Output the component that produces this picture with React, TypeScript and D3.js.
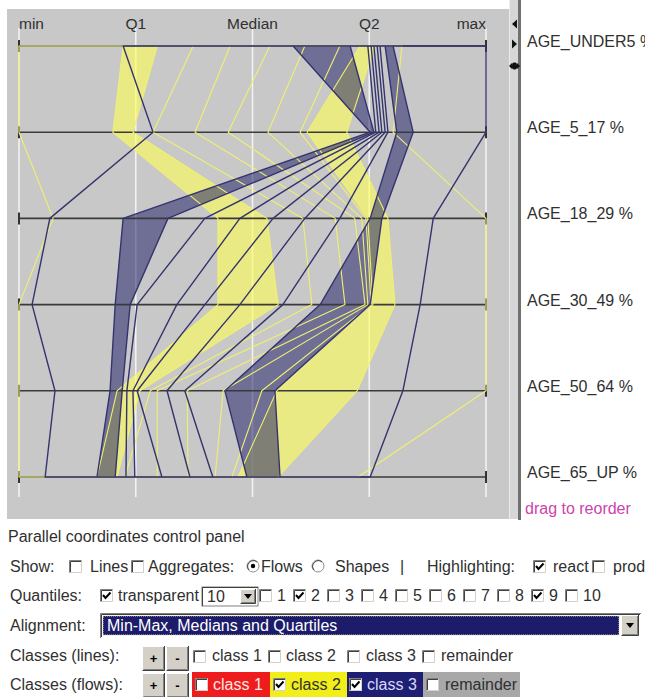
import React from "react";
import * as d3 from "d3";

// ---------- data ----------
const AXES = ["AGE_UNDER5 %", "AGE_5_17 %", "AGE_18_29 %", "AGE_30_49 %", "AGE_50_64 %", "AGE_65_UP %"];
const ALIGN_LABELS = ["min", "Q1", "Median", "Q2", "max"];
const ALIGN_STOPS = [0, 25, 50, 75, 100];

// class 2 (yellow): decile boundaries on the aligned scale (0=min,25=Q1,50=median,75=Q3,100=max)
const C2_Q0 = [0, 0, 7.3, 0, 0, 0];
const C2_Q1 = [22.3, 20.1, 42.6, 42.6, 21.0, 16.7];
const C2_Q2 = [29.6, 24.4, 53.1, 55.5, 25.9, 21.0];
const C2_Q3 = [37.3, 28.7, 60.8, 62.7, 28.1, 22.7];
const C2_Q4 = [45.2, 37.7, 67.7, 69.8, 29.6, 29.6];
const C2_Q5 = [53.7, 44.8, 71.9, 74.1, 36.0, 36.2];
const C2_Q6 = [61.2, 53.3, 73.4, 74.7, 43.7, 42.0];
const C2_Q7 = [68.7, 60.2, 74.3, 75.4, 52.0, 45.6];
const C2_Q8 = [73.0, 61.7, 74.7, 75.8, 55.2, 46.9];
const C2_Q9 = [76.2, 70.2, 79.0, 80.5, 72.4, 55.5];
const C2_Q10 = [82.0, 80.1, 100, 100, 100, 72.6];

// class 3 (navy)
const C3_Q0 = [22.3, 28.7, 6.6, 2.8, 7.7, 5.6];
const C3_Q1 = [58.7, 75.2, 22.3, 20.6, 19.5, 16.7];
const C3_Q2 = [70.9, 76.0, 31.9, 23.8, 22.1, 20.6];
const C3_Q3 = [74.7, 76.4, 39.8, 25.3, 23.1, 22.9];
const C3_Q4 = [75.4, 77.1, 47.3, 33.8, 24.4, 24.8];
const C3_Q5 = [76.0, 77.7, 54.4, 39.8, 25.3, 30.6];
const C3_Q6 = [76.7, 78.4, 61.2, 47.3, 31.7, 36.6];
const C3_Q7 = [77.3, 79.0, 68.7, 56.5, 35.5, 41.5];
const C3_Q8 = [78.4, 80.9, 75.2, 64.5, 44.1, 48.8];
const C3_Q9 = [80.1, 84.4, 77.7, 75.2, 54.8, 55.9];
const C3_Q10 = [100, 100, 88.7, 85.9, 82.2, 75.2];

const C2_BOUNDS = [C2_Q0, C2_Q1, C2_Q2, C2_Q3, C2_Q4, C2_Q5, C2_Q6, C2_Q7, C2_Q8, C2_Q9, C2_Q10];
const C3_BOUNDS = [C3_Q0, C3_Q1, C3_Q2, C3_Q3, C3_Q4, C3_Q5, C3_Q6, C3_Q7, C3_Q8, C3_Q9, C3_Q10];
const FILLED_QUANTILES = [2, 9];
const QUANTILE_BOXES = [1, 2, 3, 4, 5, 6, 7, 8, 9, 10];

const FONT = '"Liberation Sans", Arial, sans-serif';
const TXT = "#303030";

// ---------- scales ----------
const x = d3.scaleLinear().domain([0, 100]).range([19, 486]);
const y = d3.scalePoint<string>().domain(AXES).range([46, 477]);

const lineGen = d3
  .line<number>()
  .x((v) => x(v))
  .y((_, i) => y(AXES[i]) as number);

function bandPath(lo: number[], hi: number[]) {
  const pts = AXES.map((a, i) => ({ yy: y(a) as number, x0: x(lo[i]), x1: x(hi[i]) }));
  return d3
    .area<{ yy: number; x0: number; x1: number }>()
    .y((d) => d.yy)
    .x0((d) => d.x0)
    .x1((d) => d.x1)(pts) as string;
}

function envelopePath(lo: number[], hi: number[]) {
  const pts: [number, number][] = [
    ...AXES.map((a, i) => [x(lo[i]), y(a) as number] as [number, number]),
    ...AXES.map((a, i) => [x(hi[i]), y(a) as number] as [number, number]).reverse(),
  ];
  return d3.line()(pts) + "Z";
}

// ---------- widgets ----------
function Checkbox({ cx, cy, checked }: { cx: number; cy: number; checked?: boolean }) {
  const s = 13;
  return (
    <g>
      <rect x={cx} y={cy} width={s} height={s} fill="#fff" />
      <path d={`M${cx + 0.5},${cy + s} V${cy + 0.5} H${cx + s}`} stroke="#808080" fill="none" />
      <path d={`M${cx + 1.5},${cy + s - 1} V${cy + 1.5} H${cx + s - 1}`} stroke="#404040" fill="none" />
      <path d={`M${cx + 0.5},${cy + s - 0.5} H${cx + s - 0.5} V${cy + 0.5}`} stroke="#d4d0c8" fill="none" />
      {checked && (
        <path
          d={`M${cx + 3},${cy + 6} L${cx + 5.5},${cy + 9} L${cx + 10.5},${cy + 3.5}`}
          stroke="#000"
          strokeWidth={2}
          fill="none"
        />
      )}
    </g>
  );
}

function Radio({ cx, cy, on }: { cx: number; cy: number; on?: boolean }) {
  return (
    <g>
      <circle cx={cx} cy={cy} r={6} fill="#fff" stroke="#909090" />
      <path d={`M${cx - 4},${cy + 4} A5.7,5.7 0 0 1 ${cx + 4},${cy - 4}`} stroke="#404040" fill="none" />
      {on && <circle cx={cx} cy={cy} r={2.2} fill="#000" />}
    </g>
  );
}

function Button({ bx, by, w, h, label }: { bx: number; by: number; w: number; h: number; label: string }) {
  return (
    <g>
      <rect x={bx} y={by} width={w} height={h} fill="#d4d0c8" />
      <path d={`M${bx + 0.5},${by + h} V${by + 0.5} H${bx + w}`} stroke="#fff" fill="none" />
      <path d={`M${bx + 0.5},${by + h - 0.5} H${bx + w - 0.5} V${by}`} stroke="#404040" fill="none" />
      <path d={`M${bx + 1.5},${by + h - 1.5} H${bx + w - 1.5} V${by + 1}`} stroke="#808080" fill="none" />
      <text x={bx + w / 2} y={by + h / 2 + 4} textAnchor="middle" fontSize={13} fontWeight="bold" fill="#000">
        {label}
      </text>
    </g>
  );
}

function Txt({ tx, ty, children, fill = TXT, size = 16, anchor = "start" }: any) {
  return (
    <text x={tx} y={ty} fontSize={size} fill={fill} textAnchor={anchor} fontFamily={FONT}>
      {children}
    </text>
  );
}

function ClassFlows({ bounds, fill, fillOp, stroke, sw }: any) {
  return (
    <g>
      {FILLED_QUANTILES.map((q) => (
        <path key={q} d={bandPath(bounds[q - 1], bounds[q])} fill={fill} fillOpacity={fillOp} stroke="none" />
      ))}
    </g>
  );
}

function ClassLines({ bounds, stroke, sw }: any) {
  return (
    <g fill="none" stroke={stroke} strokeWidth={sw} strokeLinejoin="round">
      <path d={envelopePath(bounds[0], bounds[bounds.length - 1])} />
      {bounds.slice(1, bounds.length - 1).map((b: number[], i: number) => (
        <path key={i} d={lineGen(b) as string} />
      ))}
    </g>
  );
}

export default function App() {
  const yellowFill = "#ffff5a";
  const navyFill = "#26266c";
  return (
    <svg
      width={645}
      height={697}
      style={{ position: "absolute", left: 0, top: 0, background: "#fff", display: "block" }}
      fontFamily={FONT}
    >
      {/* plot background */}
      <rect x={7} y={9} width={502} height={510} fill="#c8c8c8" />
      {/* side strip */}
      <rect x={509} y={0} width={10} height={519} fill="#d6d6d6" />
      <line x1={509.5} y1={0} x2={509.5} y2={519} stroke="#ececec" />
      <rect x={518} y={0} width={3} height={520} fill="#707070" />
      <path d="M512,24 L517,19.5 L517,28.5 Z" fill="#111" />
      <path d="M517,44 L512,39.5 L512,48.5 Z" fill="#111" />
      <g fill="#111">
        <path d="M509,66 L512,63 L512,69 Z" />
        <path d="M520,66 L517,63 L517,69 Z" />
        <rect x={512} y={62.5} width={5} height={7} rx={2} />
      </g>

      {/* alignment guide lines */}
      {ALIGN_STOPS.map((s, i) => (
        <line key={i} x1={x(s)} x2={x(s)} y1={28} y2={497} stroke="#f2f2f2" strokeWidth={1.6} />
      ))}
      {ALIGN_LABELS.map((l, i) => (
        <Txt
          key={l}
          tx={i === 0 ? x(ALIGN_STOPS[i]) : i === 4 ? x(ALIGN_STOPS[i]) : x(ALIGN_STOPS[i])}
          ty={29}
          size={15.5}
          anchor={i === 0 ? "start" : i === 4 ? "end" : "middle"}
        >
          {l}
        </Txt>
      ))}

      {/* flows */}
      <ClassFlows bounds={C2_BOUNDS} fill={yellowFill} fillOp={0.62} />
      <ClassFlows bounds={C3_BOUNDS} fill={navyFill} fillOp={0.55} />

      {/* axes */}
      {AXES.map((a) => {
        const yy = y(a) as number;
        return (
          <g key={a}>
            <line x1={x(0)} x2={x(100)} y1={yy} y2={yy} stroke="#3a3a3a" strokeWidth={1.6} />
            <line x1={x(0)} x2={x(0)} y1={yy - 6} y2={yy + 6} stroke="#333" strokeWidth={2} />
            <line x1={x(100)} x2={x(100)} y1={yy - 6} y2={yy + 6} stroke="#333" strokeWidth={2} />
            <Txt tx={527} ty={yy + 1}>{a}</Txt>
          </g>
        );
      })}
      <Txt tx={525} ty={514} fill="#cc44aa">drag to reorder</Txt>

      <ClassLines bounds={C2_BOUNDS} stroke="#f0f070" sw={1.1} />
      <ClassLines bounds={C3_BOUNDS} stroke="#34346e" sw={1.4} />

      {/* control panel */}
      <Txt tx={8} ty={542}>Parallel coordinates control panel</Txt>

      {/* row: show */}
      <Txt tx={10} ty={572}>Show:</Txt>
      <Checkbox cx={69} cy={560} />
      <Txt tx={90} ty={572}>Lines</Txt>
      <Checkbox cx={131} cy={560} />
      <Txt tx={148} ty={572}>Aggregates:</Txt>
      <Radio cx={253} cy={566} on />
      <Txt tx={261} ty={572}>Flows</Txt>
      <Radio cx={318} cy={566} />
      <Txt tx={335} ty={572}>Shapes</Txt>
      <Txt tx={400} ty={572}>|</Txt>
      <Txt tx={427} ty={572}>Highlighting:</Txt>
      <Checkbox cx={533} cy={560} checked />
      <Txt tx={553} ty={572}>react</Txt>
      <Checkbox cx={592} cy={560} />
      <Txt tx={613} ty={572}>product</Txt>

      {/* row: quantiles */}
      <Txt tx={10} ty={601}>Quantiles:</Txt>
      <Checkbox cx={100} cy={589} checked />
      <Txt tx={118} ty={601}>transparent</Txt>
      <g>
        <rect x={202} y={587} width={56} height={19} fill="#fff" stroke="#808080" />
        <path d="M202.5,606 V587.5 H258" stroke="#404040" fill="none" />
        <Txt tx={207} ty={602}>10</Txt>
        <Button bx={240} by={589} w={16} h={15} label="" />
        <path d="M244,594 L252,594 L248,599 Z" fill="#000" />
      </g>
      {QUANTILE_BOXES.map((q, i) => (
        <g key={q}>
          <Checkbox cx={259 + i * 34} cy={589} checked={q === 2 || q === 9} />
          <Txt tx={259 + i * 34 + 18} ty={601}>{q}</Txt>
        </g>
      ))}

      {/* row: alignment */}
      <Txt tx={10} ty={631}>Alignment:</Txt>
      <g>
        <rect x={100} y={613} width={541} height={25} fill="#fff" />
        <path d="M100.5,638 V613.5 H641" stroke="#808080" fill="none" />
        <path d="M101.5,637 V614.5 H640" stroke="#404040" fill="none" />
        <rect x={103} y={616} width={516} height={19} fill="#1c1c6a" stroke="#d8d8b0" strokeDasharray="1,1" />
        <Txt tx={107} ty={631} fill="#ffffff">Min-Max, Medians and Quartiles</Txt>
        <Button bx={621} by={615} w={18} h={21} label="" />
        <path d="M626,623 L634,623 L630,628 Z" fill="#000" />
      </g>

      {/* row: classes (lines) */}
      <Txt tx={10} ty={661}>Classes (lines):</Txt>
      <Button bx={142} by={646} w={23} h={25} label="+" />
      <Button bx={166} by={646} w={23} h={25} label="-" />
      <Checkbox cx={193} cy={650} />
      <Txt tx={212} ty={661}>class 1</Txt>
      <Checkbox cx={268} cy={650} />
      <Txt tx={286} ty={661}>class 2</Txt>
      <Checkbox cx={347} cy={650} />
      <Txt tx={366} ty={661}>class 3</Txt>
      <Checkbox cx={422} cy={650} />
      <Txt tx={441} ty={661}>remainder</Txt>

      {/* row: classes (flows) */}
      <Txt tx={10} ty={690}>Classes (flows):</Txt>
      <Button bx={142} by={673} w={23} h={25} label="+" />
      <Button bx={166} by={673} w={23} h={25} label="-" />
      <rect x={192} y={672} width={78} height={25} fill="#ee1c1c" />
      <Checkbox cx={195} cy={678} />
      <Txt tx={213} ty={690} fill="#ffe8e8">class 1</Txt>
      <rect x={270} y={672} width={77} height={25} fill="#f2ee1a" />
      <Checkbox cx={273} cy={678} checked />
      <Txt tx={291} ty={690} fill="#303030">class 2</Txt>
      <rect x={347} y={672} width={76} height={25} fill="#1e1e72" />
      <Checkbox cx={349} cy={678} checked />
      <Txt tx={367} ty={690} fill="#d8d8ff">class 3</Txt>
      <rect x={423} y={672} width={97} height={25} fill="#a8a8a8" />
      <Checkbox cx={426} cy={678} />
      <Txt tx={445} ty={690} fill="#303030">remainder</Txt>
    </svg>
  );
}
